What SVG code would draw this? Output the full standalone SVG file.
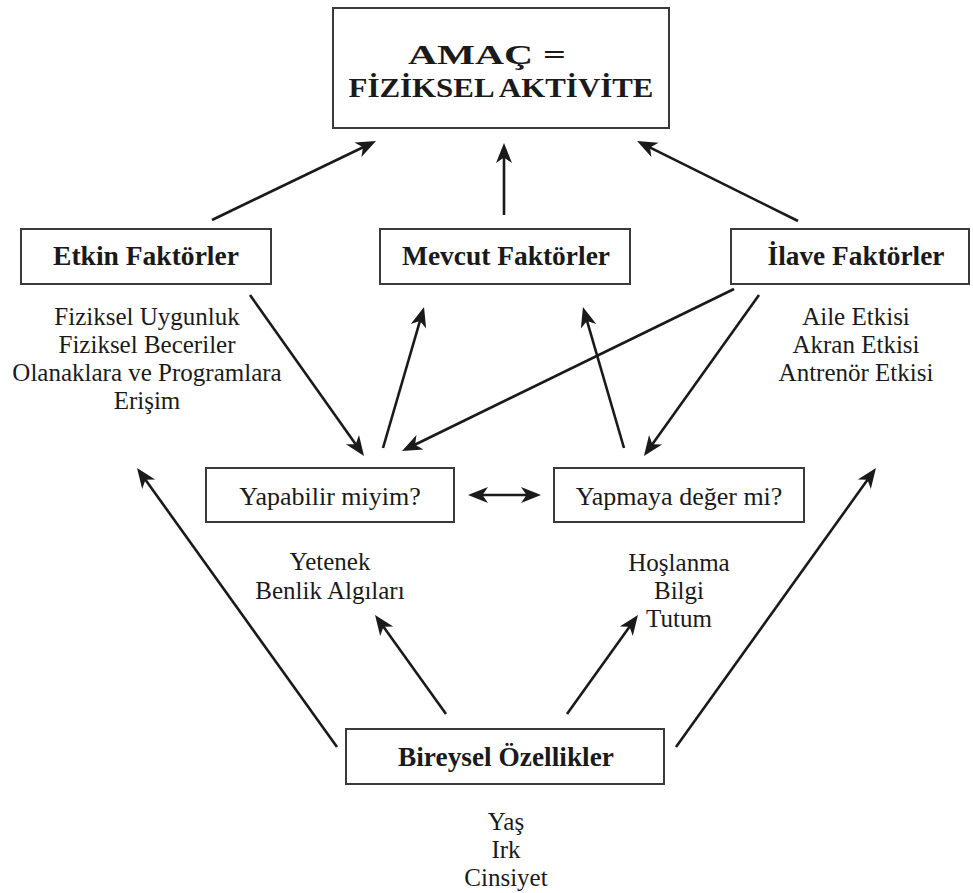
<svg xmlns="http://www.w3.org/2000/svg" width="973" height="893" viewBox="0 0 973 893">
<defs>
<style>
.box{fill:#fff;stroke:#3a3a3a;stroke-width:2}
.t{font-family:"Liberation Serif","Times New Roman",serif;fill:#1a1a1a;text-anchor:middle}
.b{font-weight:bold;font-size:27px}
.r{font-size:25px}
.q{font-size:26px}
.h{font-weight:bold;font-size:28px}
.ln{stroke:#1a1a1a;stroke-width:2.6;fill:none;marker-end:url(#ah)}
</style>
<marker id="ah" markerUnits="userSpaceOnUse" markerWidth="26" markerHeight="20" viewBox="-13 -10 26 20" refX="0" refY="0" orient="auto-start-reverse">
<path d="M8,0 L-12,-8 L-6.5,0 L-12,8 Z" fill="#1a1a1a"/>
</marker>
</defs>
<rect width="973" height="893" fill="#fff"/>

<g id="amac">
<rect class="box" x="333" y="8" width="336" height="120"/>
<text class="t h" x="487" y="64" textLength="158" lengthAdjust="spacingAndGlyphs">AMAÇ =</text>
<text class="t h" x="501" y="97" textLength="305" lengthAdjust="spacingAndGlyphs">FİZİKSEL AKTİVİTE</text>
</g>

<g id="etkin">
<rect class="box" x="21" y="229" width="250" height="55"/>
<text class="t b" x="146" y="265" textLength="186" lengthAdjust="spacingAndGlyphs">Etkin Faktörler</text>
<text class="t r" x="147" y="325">Fiziksel Uygunluk</text>
<text class="t r" x="147" y="353">Fiziksel Beceriler</text>
<text class="t r" x="147" y="381">Olanaklara ve Programlara</text>
<text class="t r" x="147" y="409">Erişim</text>
</g>

<g id="mevcut">
<rect class="box" x="380" y="229" width="250" height="55"/>
<text class="t b" x="506" y="265" textLength="208" lengthAdjust="spacingAndGlyphs">Mevcut Faktörler</text>
</g>

<g id="ilave">
<rect class="box" x="731" y="229" width="238" height="55"/>
<text class="t b" x="856" y="265" textLength="177" lengthAdjust="spacingAndGlyphs">İlave Faktörler</text>
<text class="t r" x="856" y="325">Aile Etkisi</text>
<text class="t r" x="856" y="353">Akran Etkisi</text>
<text class="t r" x="856" y="381">Antrenör Etkisi</text>
</g>

<g id="yapabilir">
<rect class="box" x="206" y="468" width="248" height="54"/>
<text class="t q" x="330" y="505">Yapabilir miyim?</text>
<text class="t r" x="330" y="570">Yetenek</text>
<text class="t r" x="330" y="599">Benlik Algıları</text>
</g>

<g id="yapmaya">
<rect class="box" x="554" y="468" width="250" height="54"/>
<text class="t q" x="679" y="505">Yapmaya değer mi?</text>
<text class="t r" x="679" y="571">Hoşlanma</text>
<text class="t r" x="679" y="599">Bilgi</text>
<text class="t r" x="679" y="627">Tutum</text>
</g>

<g id="bireysel">
<rect class="box" x="346" y="729" width="318" height="55"/>
<text class="t b" x="506" y="766" textLength="216" lengthAdjust="spacingAndGlyphs">Bireysel Özellikler</text>
<text class="t r" x="506" y="830">Yaş</text>
<text class="t r" x="506" y="858">Irk</text>
<text class="t r" x="506" y="886">Cinsiyet</text>
</g>

<g id="connectors">
<line class="ln" x1="212" y1="220" x2="368.8" y2="144.5"/>
<line class="ln" x1="504" y1="215" x2="504" y2="151"/>
<line class="ln" x1="798" y1="221" x2="644.2" y2="144.6"/>
<line class="ln" x1="250" y1="295" x2="359.4" y2="449.5"/>
<line class="ln" x1="383" y1="448" x2="421.8" y2="314.7"/>
<line class="ln" x1="734" y1="289" x2="409.2" y2="447.5"/>
<line class="ln" x1="759" y1="295" x2="648.6" y2="449.5"/>
<line class="ln" x1="624" y1="448" x2="585.2" y2="314.7"/>
<line class="ln" x1="476" y1="495" x2="533" y2="495" style="marker-start:url(#ah)"/>
<line class="ln" x1="337" y1="747" x2="141.7" y2="474.5"/>
<line class="ln" x1="446" y1="714" x2="379.7" y2="621.5"/>
<line class="ln" x1="567" y1="714" x2="633.3" y2="621.5"/>
<line class="ln" x1="676" y1="747" x2="871.3" y2="474.5"/>
</g>
</svg>
